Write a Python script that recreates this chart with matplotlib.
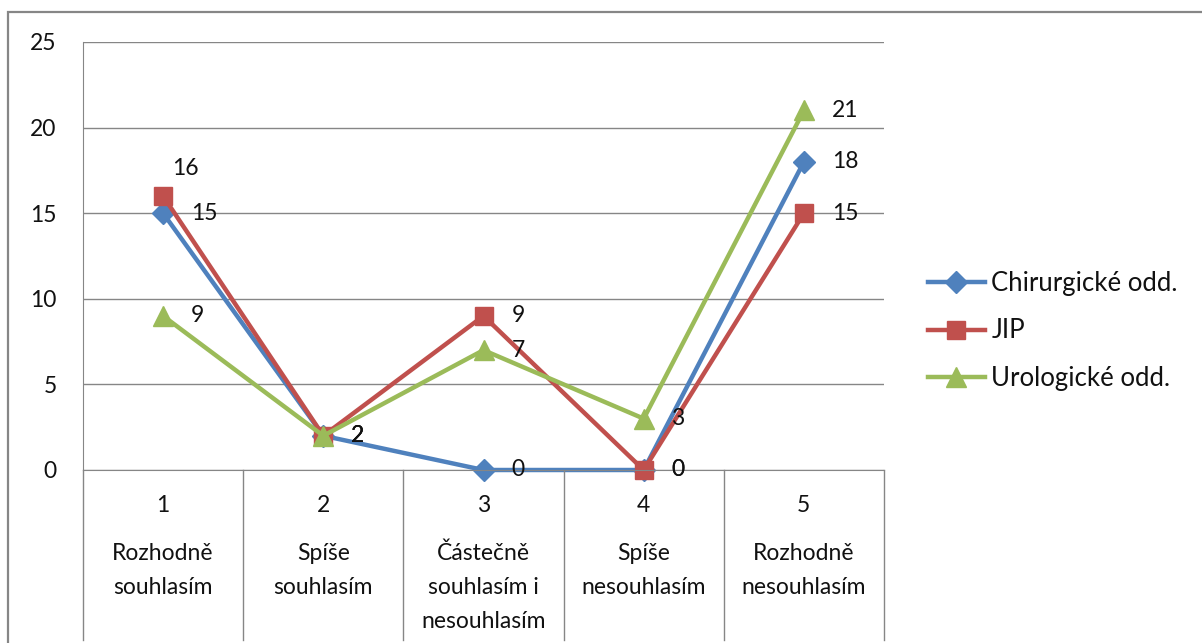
import matplotlib.pyplot as plt
from matplotlib.patches import Rectangle

plt.rcParams['font.family'] = ['Lato', 'DejaVu Sans']

categories = [1, 2, 3, 4, 5]
cat_names = ["Rozhodně\nsouhlasím", "Spíše\nsouhlasím",
             "Částečně\nsouhlasím i\nnesouhlasím", "Spíše\nnesouhlasím",
             "Rozhodně\nnesouhlasím"]

chirurgicke = [15, 2, 0, 0, 18]
jip = [16, 2, 9, 0, 15]
urologicke = [9, 2, 7, 3, 21]

series = [
    ("Chirurgické odd.", chirurgicke, "#4F81BD", "D", 11),
    ("JIP", jip, "#C0504D", "s", 13),
    ("Urologické odd.", urologicke, "#9BBB59", "^", 15),
]

txt = "#111111"
grid_c = "#868686"
fs = 16.5
leg_fs = 18.5

W, H = 1202, 643
fig = plt.figure(figsize=(W / 100, H / 100), dpi=100)
ax = fig.add_axes([83 / W, (H - 470) / H, 801 / W, 428 / H])

for name, vals, col, mk, ms in series:
    ax.plot(categories, vals, color=col, lw=3.2, marker=mk, ms=ms,
            mec=col, mew=1, label=name, clip_on=False)

# data labels, right of the point (16 sits above)
for name, vals, col, mk, ms in series:
    for x, v in zip(categories, vals):
        if name == "JIP" and x == 1:
            ax.annotate(str(v), (x, v), xytext=(16, 20), textcoords="offset points",
                        ha="center", va="center", fontsize=fs, color=txt, zorder=5)
        else:
            ax.annotate(str(v), (x, v), xytext=(20, 0), textcoords="offset points",
                        ha="left", va="center", fontsize=fs, color=txt, zorder=5)

ax.set_xlim(0.5, 5.5)
ax.set_ylim(0, 25)
ax.set_yticks(range(0, 26, 5))
ax.yaxis.grid(True, color=grid_c, lw=1)
ax.set_axisbelow(True)
ax.tick_params(axis="y", length=0, pad=19, labelsize=fs, labelcolor=txt)
ax.set_xticks([])
for s in ["top", "right"]:
    ax.spines[s].set_visible(False)
ax.spines["left"].set_color(grid_c)
ax.spines["bottom"].set_color(grid_c)

# category separators under the axis
xt = ax.get_xaxis_transform()
for b in [0.5, 1.5, 2.5, 3.5, 4.5, 5.5]:
    ax.plot([b, b], [0, -170 / 428], transform=xt, color=grid_c, lw=1, clip_on=False)

# two-level category labels
for x, nm in zip(categories, cat_names):
    ax.annotate(str(x), (x, 0), xycoords=xt, xytext=(0, -35 * 0.72),
                textcoords="offset points", ha="center", va="center",
                fontsize=fs, color=txt, annotation_clip=False)
    for k, line in enumerate(nm.split("\n")):
        ax.annotate(line, (x, 0), xycoords=xt,
                    xytext=(0, -(83 + 34.5 * k) * 0.72),
                    textcoords="offset points", ha="center", va="center",
                    fontsize=fs, color=txt, annotation_clip=False)

fig.legend(loc="center left", bbox_to_anchor=(928 / W, (H - 331) / H),
           frameon=False, fontsize=leg_fs, handlelength=2.2, handletextpad=0.27,
           labelspacing=0.89, borderpad=0, borderaxespad=0, labelcolor=txt)

# chart border
fig.patches.append(Rectangle((8 / W, -0.05), 1.1, (H - 12) / H + 0.05,
                             transform=fig.transFigure, fill=False,
                             edgecolor=grid_c, lw=1.6))

fig.savefig("out.png", dpi=100, facecolor="white")
